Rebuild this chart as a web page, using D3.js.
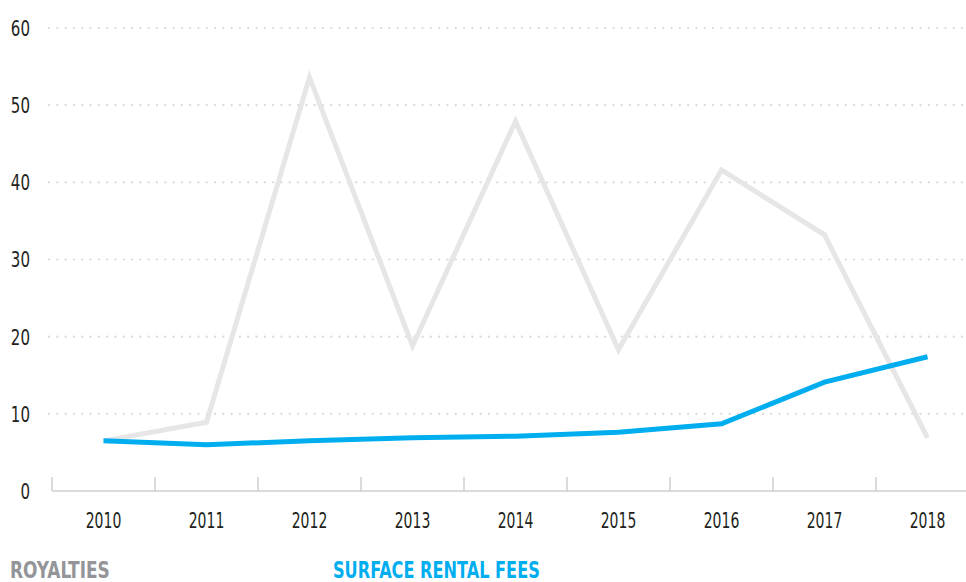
<!DOCTYPE html>
<html>
<head>
<meta charset="utf-8">
<script src="https://cdn.jsdelivr.net/npm/d3@7"></script>
<style>
  body { margin: 0; background: #fff; }
  text { font-family: "DejaVu Sans", sans-serif; font-stretch: condensed; }
</style>
</head>
<body>
<svg id="chart" width="966" height="582"></svg>
<script>
const years = ["2010", "2011", "2012", "2013", "2014", "2015", "2016", "2017", "2018"];
const royalties = [6.5, 8.9, 53.6, 18.8, 47.9, 18.3, 41.6, 33.2, 6.9];
const rentalFees = [6.5, 6.0, 6.5, 6.9, 7.1, 7.6, 8.7, 14.1, 17.4];
const yTicks = [0, 10, 20, 30, 40, 50, 60];

const svg = d3.select("#chart");
const margin = { left: 52, top: 28, bottom: 91 };

let x = d3.scaleBand()
    .domain(years)
    .range([margin.left, margin.left + 103 * years.length])
    .padding(0);

let y = d3.scaleLinear()
    .domain([0, 60])
    .range([582 - margin.bottom, margin.top]);

// condensed look: squeeze each label horizontally
function squeeze(sel, k) {
    sel.each(function () {
        let w = this.getComputedTextLength();
        d3.select(this).attr("textLength", w * k).attr("lengthAdjust", "spacingAndGlyphs");
    });
}

// dotted grid
svg.append("g").selectAll("line")
    .data(yTicks.filter(d => d > 0))
    .join("line")
    .attr("x1", 49).attr("x2", 966)
    .attr("y1", d => y(d)).attr("y2", d => y(d))
    .style("stroke", "#d9d9d9")
    .style("stroke-width", 2.2)
    .style("stroke-linecap", "round")
    .style("stroke-dasharray", "0.1,8.2");

// y labels
svg.append("g").selectAll("text")
    .data(yTicks)
    .join("text")
    .attr("x", 30)
    .attr("y", d => y(d))
    .attr("dy", "0.36em")
    .attr("text-anchor", "end")
    .style("font-size", "22px")
    .style("fill", "#231f20")
    .text(d => d)
    .call(squeeze, 0.76);

// baseline + band ticks
svg.append("line")
    .attr("x1", margin.left).attr("x2", 966)
    .attr("y1", y(0)).attr("y2", y(0))
    .style("stroke", "#cfcfcf").style("stroke-width", 1.5);

svg.append("g").selectAll("line")
    .data(years)
    .join("line")
    .attr("x1", d => x(d)).attr("x2", d => x(d))
    .attr("y1", y(0)).attr("y2", y(0) - 14)
    .style("stroke", "#cfcfcf").style("stroke-width", 1.5);

// x labels
svg.append("g").selectAll("text")
    .data(years)
    .join("text")
    .attr("x", d => x(d) + x.bandwidth() / 2)
    .attr("y", 528)
    .attr("text-anchor", "middle")
    .style("font-size", "21px")
    .style("fill", "#231f20")
    .text(d => d)
    .call(squeeze, 0.74);

let line = d3.line()
    .x((d, i) => x(years[i]) + x.bandwidth() / 2)
    .y(d => y(d));

svg.append("path")
    .attr("d", line(royalties))
    .style("fill", "none")
    .style("stroke", "#e6e6e6")
    .style("stroke-width", 5);

svg.append("path")
    .attr("d", line(rentalFees))
    .style("fill", "none")
    .style("stroke", "#00aeef")
    .style("stroke-width", 5);

// legend
svg.append("text")
    .attr("x", 10).attr("y", 578)
    .style("font-size", "23px").style("font-weight", "bold")
    .style("fill", "#939598")
    .text("ROYALTIES")
    .call(squeeze, 0.82);

svg.append("text")
    .attr("x", 333).attr("y", 578)
    .style("font-size", "23px").style("font-weight", "bold")
    .style("fill", "#00aeef")
    .text("SURFACE RENTAL FEES")
    .call(squeeze, 0.78);
</script>
</body>
</html>
